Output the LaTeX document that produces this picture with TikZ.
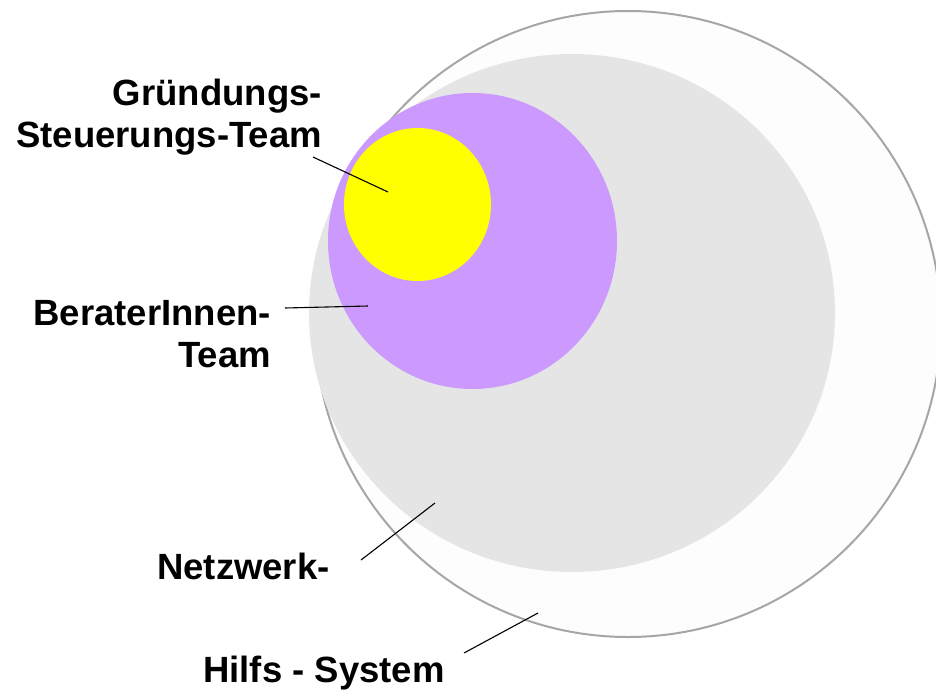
\documentclass[tikz,border=0pt]{standalone}
\usepackage{fontspec}
\setmainfont{Liberation Sans}
\definecolor{netgray}{HTML}{E5E5E5}
\definecolor{rimgray}{HTML}{A6A6A6}
\definecolor{lila}{HTML}{CC99FF}
\definecolor{gelb}{HTML}{FFFF00}
\definecolor{hilfsfill}{HTML}{FDFDFD}
\begin{document}
\begin{tikzpicture}[x=1pt,y=-1pt,
  lbl/.style={font=\fontsize{36.5}{42}\selectfont\bfseries, inner sep=0pt, align=right},
  pointer/.style={draw=black, line width=1.1pt}]
\useasboundingbox (0,0) rectangle (936,690);
\begin{scope}
\clip (0,0) rectangle (936,690);
\fill[white] (0,0) rectangle (936,690);
\draw[rimgray, line width=2pt, fill=hilfsfill] (628,324) circle[radius=313];
\fill[netgray] (572,313) ellipse[x radius=263, y radius=259];
\fill[lila] (472.5,241) ellipse[x radius=144.5, y radius=148];
\fill[gelb] (417.5,204.5) ellipse[x radius=73.5, y radius=76.5];
\end{scope}
\node[lbl, anchor=base east] (gst) at (322,147) {Gründungs-\\Steuerungs-Team};
\node[lbl, anchor=base east] (ber) at (271,367) {BeraterInnen-\\Team};
\node[lbl, anchor=base west] (net) at (157,579) {Netzwerk-};
\node[lbl, anchor=base west] (hil) at (203,682) {Hilfs - System};
\coordinate (gA) at (313,157); \coordinate (gB) at (388,192);
\coordinate (bA) at (285,308); \coordinate (bB) at (368,306);
\coordinate (nA) at (361,560); \coordinate (nB) at (435,503);
\coordinate (hA) at (464,653); \coordinate (hB) at (538,613);
\draw[pointer] (gA) -- (gB);
\draw[pointer] (bA) -- (bB);
\draw[pointer] (nA) -- (nB);
\draw[pointer] (hA) -- (hB);
\end{tikzpicture}
\end{document}
